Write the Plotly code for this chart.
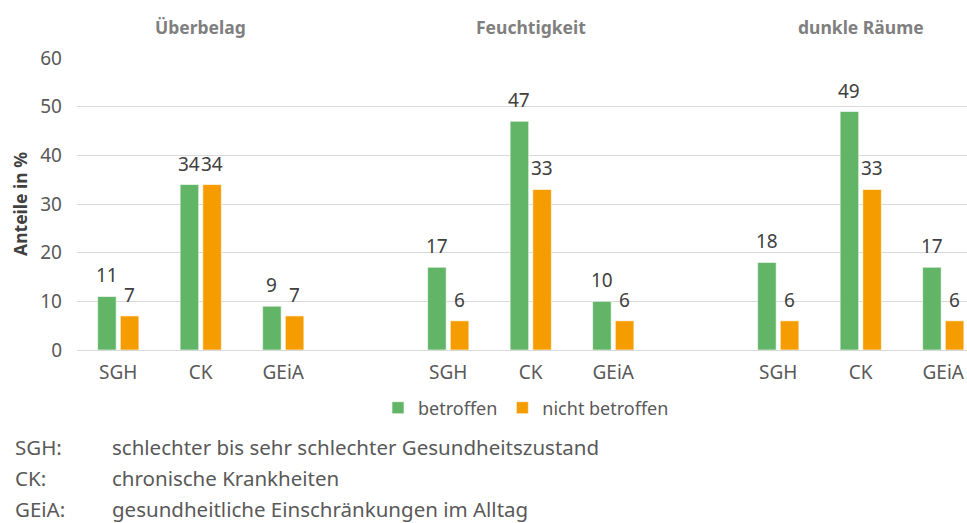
import plotly.graph_objects as go

# Data
groups = ["Überbelag", "Feuchtigkeit", "dunkle Räume"]
categories = ["SGH", "CK", "GEiA"]
betroffen = [11, 34, 9, 17, 47, 10, 18, 49, 17]
nicht_betroffen = [7, 34, 7, 6, 33, 6, 6, 33, 6]
y_ticks = [0, 10, 20, 30, 40, 50, 60]
footnotes = [
    ("SGH:", "schlechter bis sehr schlechter Gesundheitszustand"),
    ("CK:", "chronische Krankheiten"),
    ("GEiA:", "gesundheitliche Einschränkungen im Alltag"),
]

GREEN = "#62b567"
ORANGE = "#f59d00"
FONT = "Noto Sans"
TXT = "#404040"
GREY = "#595959"

W, H = 967, 523
L, R, T, B = 77, 0, 58, 173
plot_w = W - L - R
plot_h = H - T - B
SLOT = 82.5          # pixel width of one category slot
BAR_W = 0.225        # bar width in category units
BAR_GAP = 0.05       # gap between the two bars of a category


def px(x):
    return (x - L) / plot_w


def py(y):
    return (H - B - y) / plot_h


# each group occupies 3 slots followed by an empty slot
xpos = [g * 4 + c for g in range(len(groups)) for c in range(len(categories))]
ticktext = [c for _ in groups for c in categories]

series = [
    ("betroffen", betroffen, GREEN, -BAR_GAP / 2 - BAR_W),
    ("nicht betroffen", nicht_betroffen, ORANGE, BAR_GAP / 2),
]

fig = go.Figure()
annotations = []
for name, vals, col, off in series:
    fig.add_trace(go.Bar(
        x=xpos, y=vals, name=name, width=BAR_W, offset=off,
        marker=dict(color=col, line=dict(color="white", width=0.6)),
    ))
    # value labels above each bar
    for x, v in zip(xpos, vals):
        annotations.append(dict(
            x=x + off + BAR_W / 2, y=v, xref="x", yref="y", text=str(v),
            showarrow=False, xanchor="center", yanchor="bottom", yshift=6,
            font=dict(family=FONT, size=19, color=TXT),
        ))

for gi, g in enumerate(groups):
    annotations.append(dict(
        x=gi * 4 + 1, y=py(27), xref="x", yref="paper", text=f"<b>{g}</b>",
        showarrow=False, font=dict(family=FONT, size=17.5, color="#7f7f7f"),
        xanchor="center", yanchor="middle",
    ))
for i, (abbr, desc) in enumerate(footnotes):
    yy = py(447 + i * 31)
    annotations.append(dict(x=px(13), y=yy, xref="paper", yref="paper", text=abbr,
                            showarrow=False, xanchor="left", yanchor="middle",
                            font=dict(family=FONT, size=20.5, color=GREY)))
    annotations.append(dict(x=px(110), y=yy, xref="paper", yref="paper", text=desc,
                            showarrow=False, xanchor="left", yanchor="middle",
                            font=dict(family=FONT, size=20.5, color=GREY)))

fig.update_layout(
    width=W, height=H,
    margin=dict(l=L, r=R, t=T, b=B, pad=0),
    paper_bgcolor="white", plot_bgcolor="white",
    barmode="overlay",
    font=dict(family=FONT, color=GREY),
    showlegend=True,
    legend=dict(orientation="h", x=px(378), y=py(408), xanchor="left", yanchor="middle",
                font=dict(family=FONT, size=18, color=GREY), itemwidth=30,
                traceorder="normal", tracegroupgap=0),
    annotations=annotations,
    xaxis=dict(
        range=[-0.5, (W - L) / SLOT - 0.5], tickvals=xpos, ticktext=ticktext,
        showgrid=False, zeroline=False, showline=False, ticks="",
        tickfont=dict(family=FONT, size=19, color=GREY), ticklabelstandoff=9,
    ),
    yaxis=dict(
        range=[0, 60], tickvals=y_ticks, showgrid=True, gridcolor="#d9d9d9", gridwidth=1,
        zeroline=True, zerolinecolor="#d9d9d9", zerolinewidth=1, showline=False, ticks="",
        tickfont=dict(family=FONT, size=19, color=GREY), ticklabelstandoff=14,
        title=dict(text="<b>Anteile in %</b>", font=dict(family=FONT, size=17.5, color=TXT), standoff=8),
    ),
)

fig.write_html("out.html")
